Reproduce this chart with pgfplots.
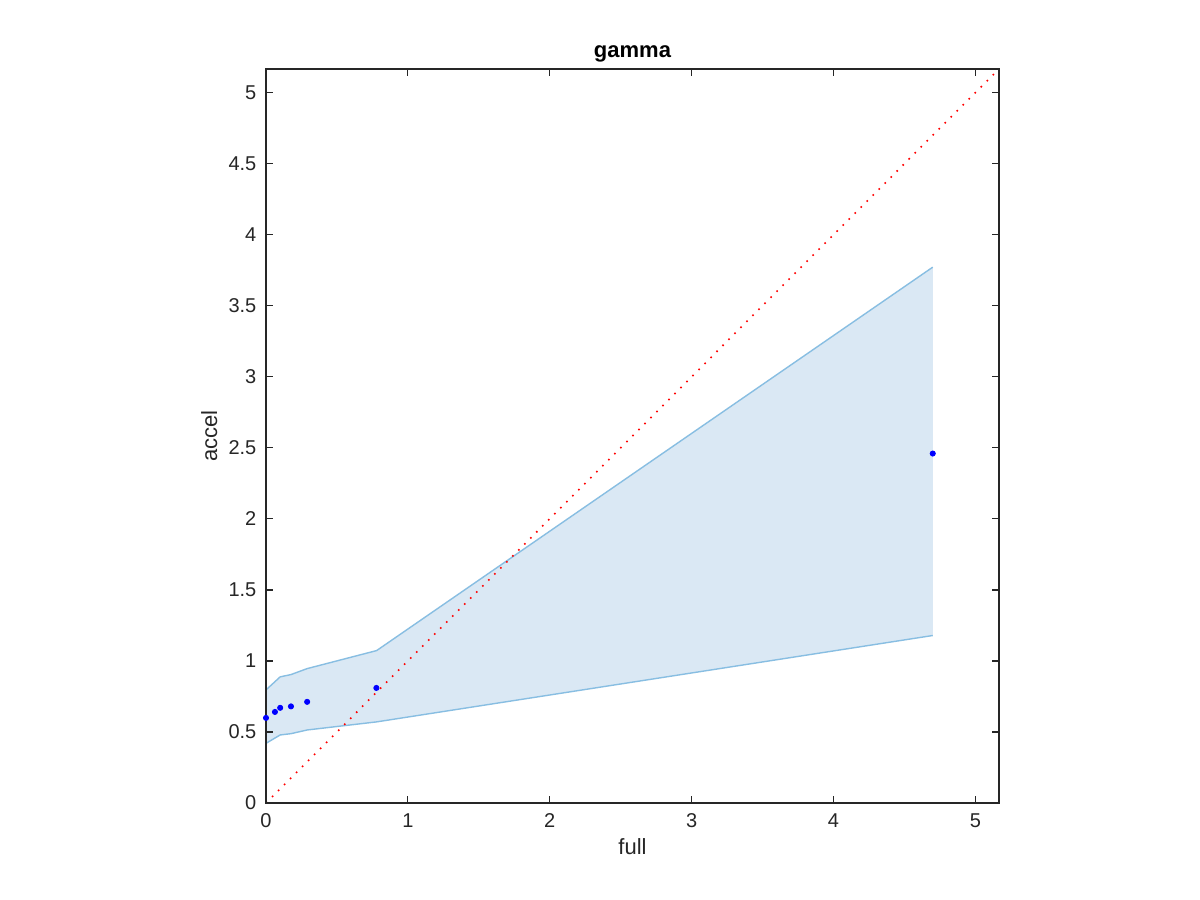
\documentclass[border=0pt]{standalone}
\usepackage{fontspec}
\setmainfont{Liberation Sans}
\usepackage{pgfplots}
\pgfplotsset{compat=1.18}
\definecolor{axgray}{RGB}{38,38,38}
\definecolor{bandfill}{RGB}{218,232,244}
\definecolor{bandedge}{RGB}{136,190,226}
\begin{document}
\begin{tikzpicture}
\path[use as bounding box, fill=white] (0,0) rectangle (600pt,450pt);
\begin{axis}[at={(133pt,48.5pt)}, anchor=south west, scale only axis,
  width=366.5pt, height=367pt,
  xmin=0, xmax=5.167, ymin=0, ymax=5.167,
  xtick={0,1,2,3,4,5}, ytick={0,0.5,1,1.5,2,2.5,3,3.5,4,4.5,5},
  tick align=inside, tick pos=both, major tick length=3.7pt,
  axis on top,
  axis line style={axgray, line width=0.6pt},
  tick style={axgray, line width=0.6pt},
  ticklabel style={font=\fontsize{10}{12}\selectfont, text=axgray},
  /pgf/number format/assume math mode=true,
  xticklabel style={yshift=-1.7pt},
  yticklabel style={xshift=-1.3pt},
  xlabel={full}, ylabel={accel}, title={gamma},
  xlabel style={at={(axis description cs:0.5,0)}, anchor=base, yshift=-26pt, font=\fontsize{11}{13}\selectfont, text=axgray},
  ylabel style={at={(axis description cs:-0.0668,0.5)}, anchor=base, font=\fontsize{11}{13}\selectfont, text=axgray},
  title style={at={(axis description cs:0.5,1)}, anchor=base, yshift=-0.5pt, font=\bfseries\fontsize{11}{13}\selectfont},
]
% confidence band fill
\addplot[fill=bandfill, draw=none, forget plot] coordinates {
  (0,0.796) (0.10,0.888) (0.176,0.904) (0.29,0.946) (0.78,1.073) (4.70,3.772)
  (4.70,1.179) (0.78,0.571) (0.29,0.514) (0.176,0.488) (0.10,0.479) (0,0.420)
} -- cycle;
% band edges
\addplot[bandedge, line width=0.7pt] coordinates {
  (0,0.796) (0.10,0.888) (0.176,0.904) (0.29,0.946) (0.78,1.073) (4.70,3.772)
};
\addplot[bandedge, line width=0.7pt] coordinates {
  (0,0.420) (0.10,0.479) (0.176,0.488) (0.29,0.514) (0.78,0.571) (4.70,1.179)
};
% identity line
\addplot[red, line width=0.8pt, dash pattern=on 0.8pt off 3.45pt] coordinates {
  (0,0) (5.167,5.167)
};
% points
\addplot[only marks, mark=*, mark size=1.3pt, color=blue, mark options={draw=blue, fill=blue}] coordinates {
  (0,0.599) (0.063,0.641) (0.10,0.670) (0.176,0.680) (0.29,0.712) (0.778,0.810) (4.70,2.460)
};
\end{axis}
\end{tikzpicture}
\end{document}
